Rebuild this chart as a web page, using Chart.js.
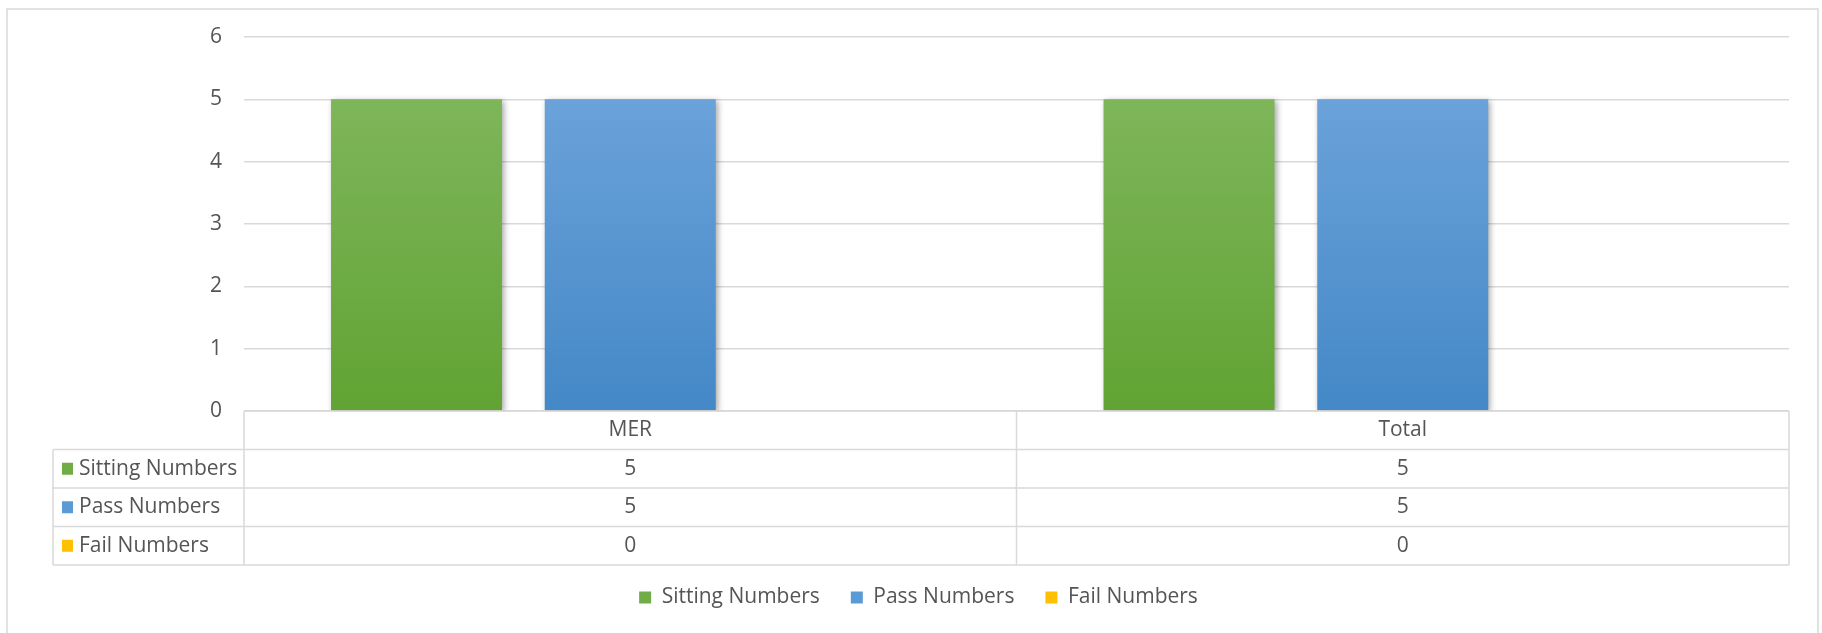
<!DOCTYPE html>
<html>
<head>
<meta charset="utf-8">
<script src="https://cdn.jsdelivr.net/npm/chart.js@4.4.0/dist/chart.umd.min.js"></script>
<style>
  html, body { margin: 0; padding: 0; background: #fff; }
  #wrap { width: 1822px; height: 633px; position: relative; }
</style>
</head>
<body>
<div id="wrap"><canvas id="grafico"></canvas></div>
<script>
// Dados do gráfico
const categorias = ['MER', 'Total'];
const nomesSeries = ['Sitting Numbers', 'Pass Numbers', 'Fail Numbers'];
const sittingNumbers = [5, 5];
const passNumbers = [5, 5];
const failNumbers = [0, 0];
const ticksY = [0, 1, 2, 3, 4, 5, 6];

// Cores (topo e base do degradê, cor sólida para legenda)
const coresTopo = ['#84b962', '#72a7dd', '#ffca2a'];
const coresBase = ['#61a333', '#4488c7', '#f2b400'];
const coresSolidas = ['#70ad47', '#5b9bd5', '#ffc000'];

const corTexto = '#555555';
const corLinha = '#d9d9d9';
const fonte = '"Open Sans", sans-serif';
const tamanhoFonte = 21;

// Degradê vertical das barras
function degrade(indice) {
  return (context) => {
    const area = context.chart.chartArea;
    if (!area) return coresSolidas[indice];
    const g = context.chart.ctx.createLinearGradient(0, area.top, 0, area.bottom);
    g.addColorStop(0, coresTopo[indice]);
    g.addColorStop(1, coresBase[indice]);
    return g;
  };
}

// Moldura externa
const molduraPlugin = {
  id: 'moldura',
  beforeDraw(chart) {
    const ctx = chart.ctx;
    ctx.save();
    ctx.fillStyle = '#fff';
    ctx.fillRect(0, 0, chart.width, chart.height);
    ctx.strokeStyle = corLinha;
    ctx.lineWidth = 1.5;
    ctx.strokeRect(7, 9, 1811, 660);
    ctx.restore();
  }
};

// Sombra das barras
const sombraPlugin = {
  id: 'sombra',
  beforeDatasetsDraw(chart) {
    const ctx = chart.ctx;
    ctx.save();
    ctx.shadowColor = 'rgba(0,0,0,0.35)';
    ctx.shadowBlur = 6;
    ctx.shadowOffsetX = 2;
    ctx.shadowOffsetY = 2;
  },
  afterDatasetsDraw(chart) {
    chart.ctx.restore();
  }
};

// Tabela de dados abaixo do eixo
const tabelaPlugin = {
  id: 'tabela',
  afterDraw(chart) {
    const ctx = chart.ctx;
    const x = chart.scales.x;
    const area = chart.chartArea;
    const topo = area.bottom;
    const alturaLinha = 38.5;
    const esq = 53;
    const dir = area.right;
    const fundo = topo + 4 * alturaLinha;
    const series = [sittingNumbers, passNumbers, failNumbers];

    ctx.save();
    ctx.strokeStyle = corLinha;
    ctx.lineWidth = 1.5;
    const linhaV = (xv, y1, y2) => {
      ctx.beginPath(); ctx.moveTo(xv, y1); ctx.lineTo(xv, y2); ctx.stroke();
    };
    for (let i = 0; i <= 4; i++) {
      const y = topo + i * alturaLinha;
      ctx.beginPath();
      ctx.moveTo(i === 0 ? area.left : esq, y);
      ctx.lineTo(dir, y);
      ctx.stroke();
    }
    linhaV(esq, topo + alturaLinha, fundo);
    linhaV(area.left, topo, fundo);
    for (let i = 1; i < categorias.length; i++) {
      linhaV((x.getPixelForValue(i - 1) + x.getPixelForValue(i)) / 2, topo, fundo);
    }
    linhaV(dir, topo, fundo);

    ctx.fillStyle = corTexto;
    ctx.font = tamanhoFonte + 'px ' + fonte;
    ctx.textBaseline = 'middle';
    ctx.textAlign = 'center';
    categorias.forEach((cat, i) => {
      const cx = x.getPixelForValue(i);
      ctx.fillText(cat, cx, topo + alturaLinha / 2);
      series.forEach((s, j) => {
        ctx.fillText(String(s[i]), cx, topo + alturaLinha * (j + 1.5));
      });
    });
    ctx.textAlign = 'left';
    nomesSeries.forEach((nome, j) => {
      const cy = topo + alturaLinha * (j + 1.5);
      ctx.fillStyle = coresSolidas[j];
      ctx.fillRect(62, cy - 6, 11, 12);
      ctx.fillStyle = corTexto;
      ctx.fillText(nome, 79, cy);
    });
    ctx.restore();
  }
};

const ctx = document.getElementById('grafico').getContext('2d');
const grafico = new Chart(ctx, {
  type: 'bar',
  data: {
    labels: categorias,
    datasets: [
      { label: nomesSeries[0], data: sittingNumbers, backgroundColor: degrade(0) },
      { label: nomesSeries[1], data: passNumbers, backgroundColor: degrade(1) },
      { label: nomesSeries[2], data: failNumbers, backgroundColor: degrade(2) }
    ]
  },
  options: {
    responsive: true,
    maintainAspectRatio: false,
    animation: false,
    events: [],
    layout: { padding: { top: 37, left: 48, right: 33, bottom: 15 } },
    datasets: { bar: { categoryPercentage: 0.83, barPercentage: 0.8 } },
    scales: {
      x: {
        ticks: { display: false },
        grid: { display: false },
        border: { display: false },
        afterFit(scale) { scale.height = 145; }
      },
      y: {
        min: 0,
        max: 6,
        afterBuildTicks(scale) { scale.ticks = ticksY.map(v => ({ value: v })); },
        afterFit(scale) { scale.width = 196; },
        ticks: {
          color: corTexto,
          padding: 22,
          font: { family: fonte, size: tamanhoFonte }
        },
        grid: { color: corLinha, lineWidth: 1.5, drawTicks: false },
        border: { display: false }
      }
    },
    plugins: {
      tooltip: { enabled: false },
      legend: {
        position: 'bottom',
        labels: {
          color: corTexto,
          boxWidth: 12,
          boxHeight: 12,
          padding: 31,
          font: { family: fonte, size: tamanhoFonte },
          generateLabels(chart) {
            return Chart.defaults.plugins.legend.labels.generateLabels(chart).map((item, i) => {
              item.fillStyle = coresSolidas[i];
              item.strokeStyle = coresSolidas[i];
              item.lineWidth = 0;
              return item;
            });
          }
        }
      }
    }
  },
  plugins: [molduraPlugin, sombraPlugin, tabelaPlugin]
});
</script>
</body>
</html>
